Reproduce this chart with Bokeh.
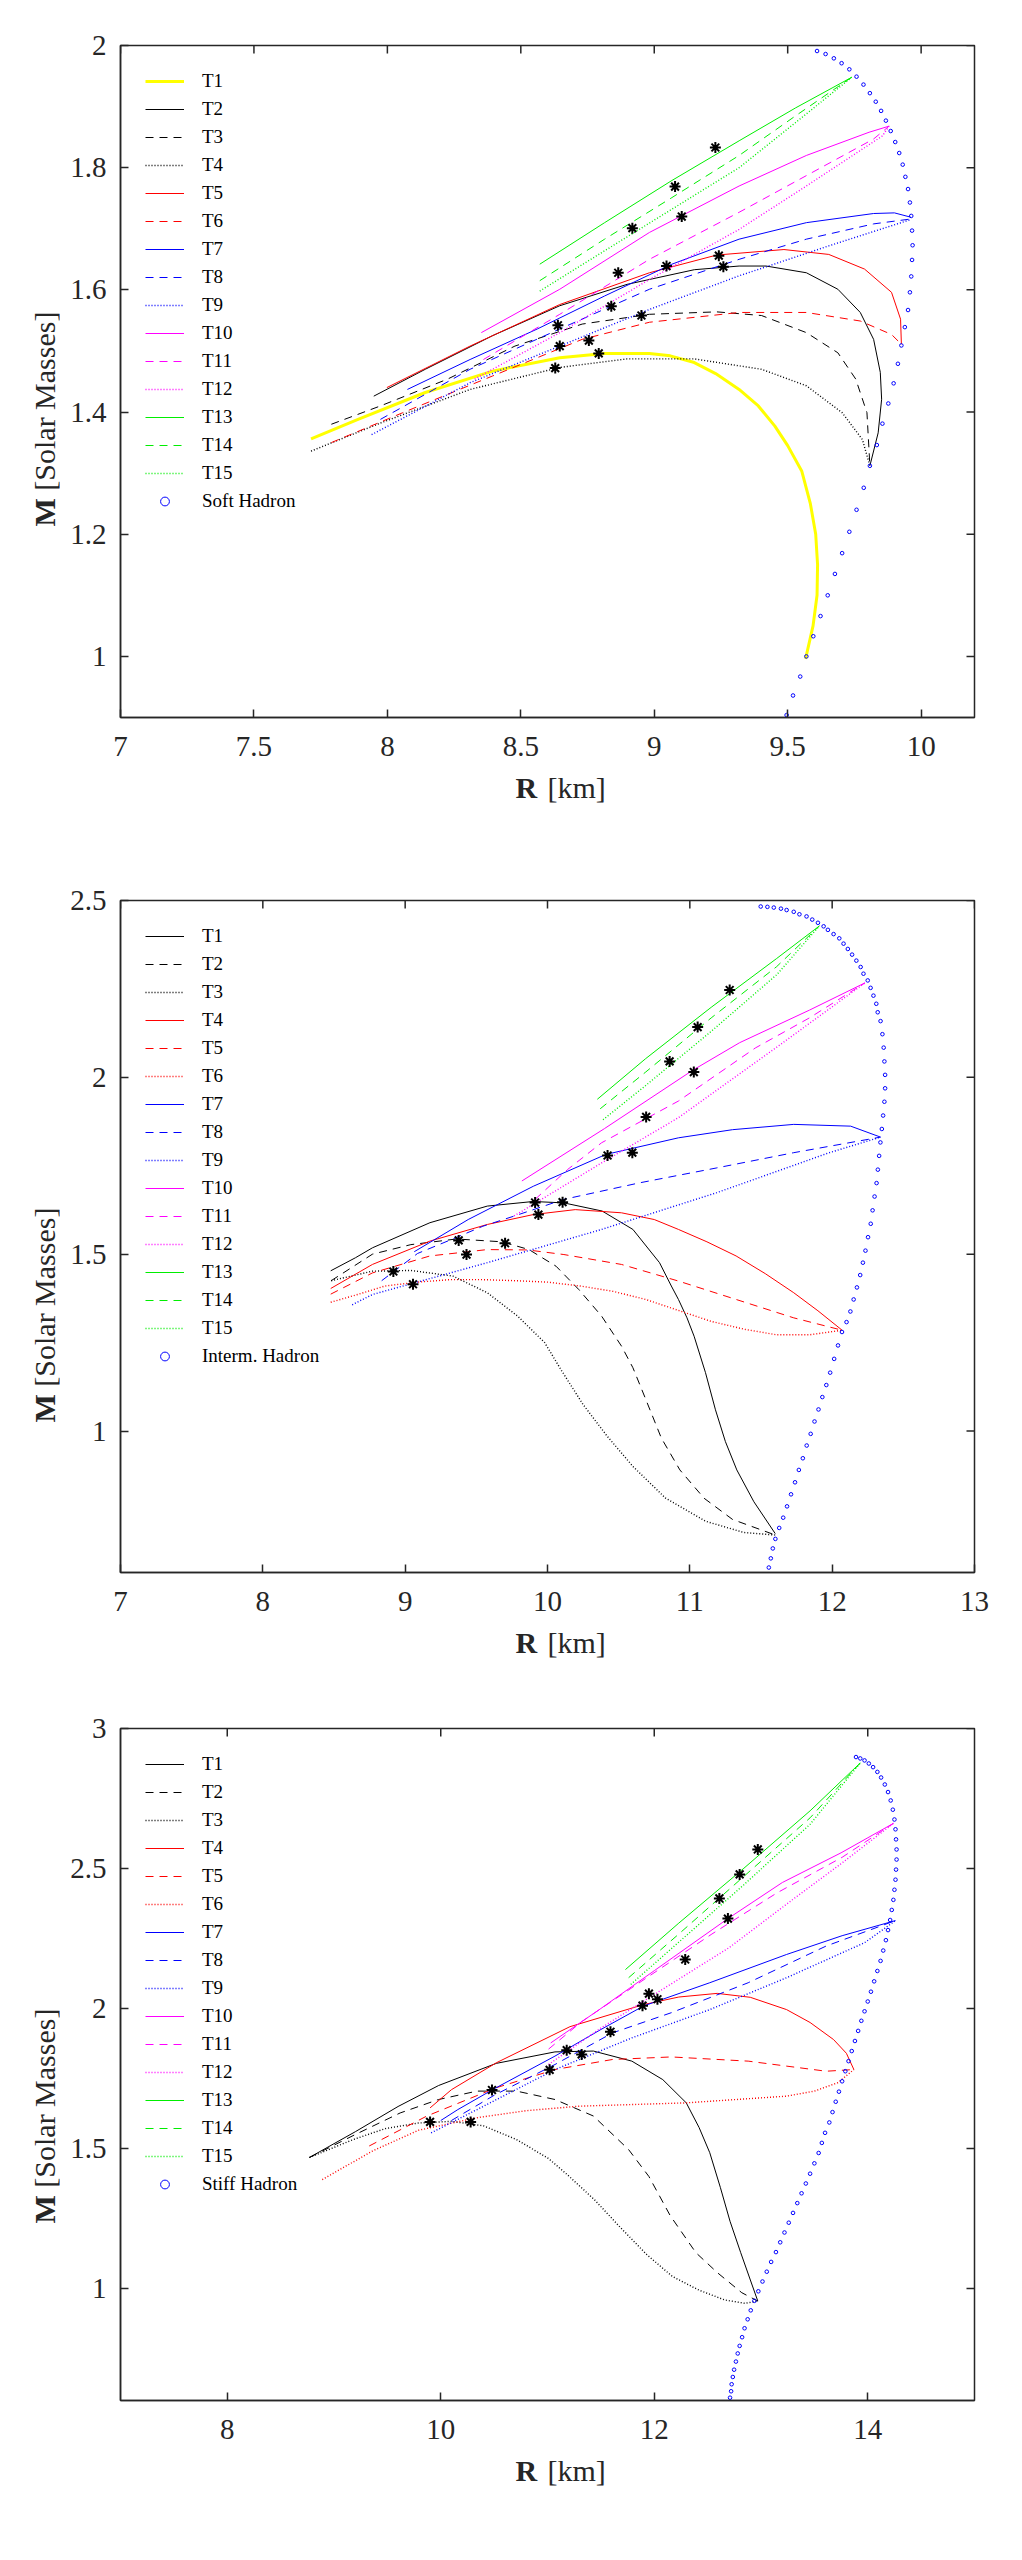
import math
from bokeh.plotting import figure
from bokeh.models import FixedTicker, Legend, LegendItem, Range1d
from bokeh.layouts import column, row
from bokeh.core.properties import value
from bokeh.embed import file_html
from bokeh.resources import INLINE

# ------------------------------------------------------------------ data
NAMES = ["T%d" % i for i in range(1, 16)]
X_TITLE = ("R", "[km]")
Y_TITLE = ("M", "[Solar Masses]")

# ---- panel 1 : Soft Hadron
P1_XTICKS = [7, 7.5, 8, 8.5, 9, 9.5, 10]
P1_XLABELS = ["7", "7.5", "8", "8.5", "9", "9.5", "10"]
P1_YTICKS = [1, 1.2, 1.4, 1.6, 1.8, 2]
P1_YLABELS = ["1", "1.2", "1.4", "1.6", "1.8", "2"]
P1_HADRON_NAME = "Soft Hadron"

P1_T1 = [(7.714, 1.356), (7.890, 1.388), (8.142, 1.432), (8.394, 1.467), (8.646, 1.489), (8.814, 1.496),
         (8.982, 1.496), (9.06, 1.492), (9.15, 1.481), (9.23, 1.463), (9.318, 1.437), (9.39, 1.41),
         (9.452, 1.377), (9.5, 1.345), (9.553, 1.303), (9.585, 1.25), (9.605, 1.2), (9.612, 1.15),
         (9.61, 1.1), (9.595, 1.05), (9.567, 0.996)]
P1_T2 = [(7.949, 1.426), (8.142, 1.470), (8.394, 1.525), (8.646, 1.574), (8.898, 1.609), (9.15, 1.633),
         (9.318, 1.639), (9.419, 1.639), (9.57, 1.628), (9.688, 1.601), (9.772, 1.563), (9.822, 1.519),
         (9.847, 1.465), (9.852, 1.421), (9.839, 1.366), (9.808, 1.312)]
P1_T3 = [(7.79, 1.38), (7.974, 1.410), (8.226, 1.454), (8.478, 1.508), (8.73, 1.544), (8.982, 1.56),
         (9.234, 1.564), (9.402, 1.558), (9.57, 1.530), (9.688, 1.497), (9.755, 1.454), (9.797, 1.399),
         (9.808, 1.312)]
P1_T4 = [(7.714, 1.336), (7.974, 1.382), (8.31, 1.437), (8.646, 1.473), (8.898, 1.487), (9.15, 1.487),
         (9.402, 1.470), (9.57, 1.443), (9.704, 1.399), (9.78, 1.355), (9.808, 1.312)]
P1_T5 = [(7.998, 1.440), (8.31, 1.508), (8.646, 1.576), (8.982, 1.628), (9.234, 1.657), (9.486, 1.666),
         (9.654, 1.658), (9.788, 1.634), (9.889, 1.596), (9.923, 1.552), (9.926, 1.511)]
P1_T6 = [(7.79, 1.350), (8.058, 1.399), (8.394, 1.459), (8.73, 1.519), (8.982, 1.547), (9.318, 1.563),
         (9.57, 1.563), (9.772, 1.549), (9.889, 1.527), (9.926, 1.511)]
P1_T7 = [(8.075, 1.437), (8.31, 1.486), (8.562, 1.536), (8.814, 1.590), (9.066, 1.642), (9.318, 1.683),
         (9.57, 1.710), (9.822, 1.725), (9.90, 1.726), (9.961, 1.719)]
P1_T8 = [(7.974, 1.388), (8.31, 1.470), (8.646, 1.536), (8.982, 1.601), (9.318, 1.650), (9.57, 1.683),
         (9.822, 1.708), (9.961, 1.716)]
P1_T9 = [(7.941, 1.363), (8.31, 1.448), (8.646, 1.508), (8.982, 1.568), (9.318, 1.623), (9.654, 1.672),
         (9.961, 1.715)]
P1_T10 = [(8.352, 1.530), (8.646, 1.601), (8.982, 1.694), (9.318, 1.770), (9.57, 1.820), (9.805, 1.858),
          (9.88, 1.868)]
P1_T11 = [(8.36, 1.486), (8.646, 1.560), (8.982, 1.650), (9.318, 1.727), (9.57, 1.787), (9.822, 1.847),
          (9.88, 1.868)]
P1_T12 = [(8.327, 1.454), (8.646, 1.530), (8.982, 1.617), (9.318, 1.699), (9.57, 1.770), (9.855, 1.852),
          (9.88, 1.868)]
P1_T13 = [(8.571, 1.642), (8.814, 1.710), (9.066, 1.779), (9.318, 1.844), (9.53, 1.898), (9.74, 1.948)]
P1_T14 = [(8.571, 1.615), (8.814, 1.683), (9.066, 1.751), (9.318, 1.820), (9.53, 1.885), (9.74, 1.948)]
P1_T15 = [(8.571, 1.598), (8.814, 1.664), (9.066, 1.732), (9.318, 1.800), (9.53, 1.874), (9.74, 1.948)]
P1_HADRON = [(9.496, 0.904), (9.52, 0.936), (9.547, 0.967), (9.57, 1.0), (9.596, 1.033), (9.623, 1.066),
             (9.65, 1.10), (9.677, 1.135), (9.704, 1.169), (9.731, 1.204), (9.758, 1.24), (9.785, 1.276),
             (9.808, 1.312), (9.834, 1.346), (9.855, 1.381), (9.877, 1.414), (9.897, 1.447), (9.913, 1.479),
             (9.926, 1.509), (9.939, 1.539), (9.951, 1.567), (9.958, 1.596), (9.963, 1.622), (9.966, 1.649),
             (9.968, 1.673), (9.966, 1.697), (9.963, 1.721), (9.958, 1.743), (9.951, 1.765), (9.941, 1.785),
             (9.931, 1.805), (9.918, 1.824), (9.903, 1.842), (9.886, 1.86), (9.868, 1.877), (9.850, 1.893),
             (9.830, 1.908), (9.808, 1.922), (9.784, 1.936), (9.758, 1.949), (9.731, 1.961), (9.702, 1.971),
             (9.673, 1.979), (9.642, 1.986), (9.61, 1.991)]
P1_STARS = [(9.229, 1.833), (9.078, 1.769), (9.103, 1.720), (8.918, 1.701), (8.865, 1.628), (9.046, 1.639),
            (9.242, 1.656), (9.259, 1.638), (8.839, 1.573), (8.952, 1.558), (8.639, 1.542), (8.646, 1.508),
            (8.755, 1.517), (8.792, 1.496), (8.629, 1.472)]

# ---- panel 2 : Interm. Hadron
P2_XTICKS = [7, 8, 9, 10, 11, 12, 13]
P2_XLABELS = ["7", "8", "9", "10", "11", "12", "13"]
P2_YTICKS = [1, 1.5, 2, 2.5]
P2_YLABELS = ["1", "1.5", "2", "2.5"]
P2_HADRON_NAME = "Interm. Hadron"

P2_T1 = [(8.477, 1.453), (8.651, 1.49), (8.77, 1.518), (9.174, 1.589), (9.577, 1.636), (9.90, 1.649),
         (10.115, 1.645), (10.384, 1.622), (10.60, 1.570), (10.787, 1.476), (10.87, 1.41), (10.92, 1.372),
         (10.98, 1.32), (11.03, 1.268), (11.11, 1.165), (11.18, 1.06), (11.25, 0.97), (11.33, 0.89),
         (11.45, 0.80), (11.6, 0.71)]
P2_T2 = [(8.48, 1.425), (8.77, 1.50), (9.04, 1.527), (9.36, 1.543), (9.68, 1.535), (9.87, 1.513),
         (10.06, 1.466), (10.22, 1.40), (10.38, 1.325), (10.52, 1.24), (10.60, 1.179), (10.69, 1.09),
         (10.80, 0.98), (10.93, 0.89), (11.1, 0.81), (11.3, 0.75), (11.6, 0.706)]
P2_T3 = [(8.48, 1.425), (8.77, 1.452), (9.04, 1.454), (9.336, 1.438), (9.577, 1.391), (9.79, 1.325),
         (9.98, 1.25), (10.10, 1.17), (10.25, 1.075), (10.42, 0.985), (10.6, 0.9), (10.83, 0.81),
         (11.11, 0.745), (11.38, 0.713), (11.6, 0.706)]
P2_T4 = [(8.477, 1.403), (8.77, 1.471), (9.174, 1.537), (9.577, 1.584), (9.90, 1.612), (10.195, 1.626),
         (10.52, 1.617), (10.75, 1.598), (10.92, 1.570), (11.12, 1.535), (11.325, 1.495), (11.53, 1.445),
         (11.73, 1.391), (11.9, 1.34), (12.07, 1.285)]
P2_T5 = [(8.477, 1.387), (8.77, 1.447), (9.174, 1.495), (9.577, 1.513), (9.86, 1.512), (10.115, 1.499),
         (10.52, 1.471), (10.92, 1.424), (11.325, 1.372), (11.73, 1.32), (12.07, 1.285)]
P2_T6 = [(8.477, 1.364), (8.674, 1.387), (8.858, 1.41), (9.087, 1.421), (9.316, 1.428), (9.546, 1.428),
         (9.775, 1.425), (10.0, 1.421), (10.23, 1.41), (10.46, 1.395), (10.69, 1.372), (10.92, 1.341),
         (11.15, 1.31), (11.38, 1.288), (11.61, 1.272), (11.84, 1.272), (12.07, 1.285)]
P2_T7 = [(9.064, 1.507), (9.443, 1.598), (9.90, 1.692), (10.41, 1.782), (10.92, 1.829), (11.3, 1.852),
         (11.73, 1.867), (12.13, 1.862), (12.34, 1.831)]
P2_T8 = [(8.835, 1.425), (9.087, 1.502), (9.316, 1.54), (9.546, 1.579), (9.775, 1.609), (10.115, 1.655),
         (10.65, 1.702), (11.19, 1.744), (11.73, 1.787), (12.34, 1.831)]
P2_T9 = [(8.628, 1.357), (8.77, 1.386), (9.577, 1.476), (10.38, 1.57), (11.19, 1.674), (11.98, 1.787),
         (12.34, 1.831)]
P2_T10 = [(9.82, 1.707), (10.4, 1.855), (11.02, 2.02), (11.35, 2.098), (11.84, 2.19), (12.23, 2.267)]
P2_T11 = [(9.913, 1.655), (10.14, 1.739), (10.38, 1.815), (10.92, 1.933), (11.46, 2.083), (11.84, 2.168),
          (12.23, 2.267)]
P2_T12 = [(9.765, 1.608), (10.38, 1.758), (10.92, 1.886), (11.62, 2.088), (12.23, 2.267)]
P2_T13 = [(10.35, 1.938), (10.69, 2.053), (11.15, 2.198), (11.61, 2.336), (11.91, 2.428)]
P2_T14 = [(10.37, 1.911), (10.69, 2.015), (11.15, 2.168), (11.61, 2.313), (11.91, 2.428)]
P2_T15 = [(10.39, 1.88), (10.69, 1.977), (11.15, 2.13), (11.61, 2.29), (11.91, 2.428)]
P2_HADRON = [(11.498, 2.483), (11.545, 2.482), (11.59, 2.48), (11.64, 2.477), (11.68, 2.473), (11.73, 2.468),
             (11.77, 2.461), (11.82, 2.455), (11.86, 2.446), (11.90, 2.437), (11.94, 2.427), (11.97, 2.417),
             (12.01, 2.405), (12.05, 2.393), (12.08, 2.378), (12.11, 2.363), (12.14, 2.347), (12.17, 2.33),
             (12.20, 2.312), (12.22, 2.293), (12.25, 2.274), (12.27, 2.253), (12.29, 2.231), (12.31, 2.208),
             (12.32, 2.184), (12.34, 2.159), (12.353, 2.122), (12.362, 2.084), (12.367, 2.045), (12.372, 2.007),
             (12.372, 1.969), (12.367, 1.931), (12.358, 1.892), (12.349, 1.854), (12.339, 1.816), (12.33, 1.778),
             (12.321, 1.739), (12.312, 1.701), (12.298, 1.663), (12.284, 1.624), (12.271, 1.586), (12.252, 1.548),
             (12.234, 1.51), (12.216, 1.476), (12.197, 1.441), (12.174, 1.406), (12.151, 1.372), (12.128, 1.338),
             (12.101, 1.308), (12.069, 1.28), (12.041, 1.242), (12.014, 1.204), (11.986, 1.165), (11.959, 1.13),
             (11.931, 1.096), (11.904, 1.061), (11.876, 1.027), (11.849, 0.992), (11.821, 0.959), (11.794, 0.923),
             (11.766, 0.89), (11.739, 0.855), (11.711, 0.821), (11.683, 0.787), (11.656, 0.755), (11.628, 0.726),
             (11.601, 0.695), (11.583, 0.668), (11.569, 0.64), (11.555, 0.614)]
P2_STARS = [(11.28, 2.247), (11.055, 2.142), (10.858, 2.045), (11.028, 2.015), (10.693, 1.888), (10.422, 1.779),
            (10.596, 1.787), (9.913, 1.646), (10.106, 1.647), (9.936, 1.612), (9.376, 1.539), (9.702, 1.531),
            (9.431, 1.499), (8.917, 1.451), (9.055, 1.415)]

# ---- panel 3 : Stiff Hadron
P3_XTICKS = [8, 10, 12, 14]
P3_XLABELS = ["8", "10", "12", "14"]
P3_YTICKS = [1, 1.5, 2, 2.5, 3]
P3_YLABELS = ["1", "1.5", "2", "2.5", "3"]
P3_HADRON_NAME = "Stiff Hadron"

P3_T1 = [(8.77, 1.468), (9.2, 1.56), (9.6, 1.65), (9.98, 1.725), (10.52, 1.804), (11.07, 1.845),
         (11.43, 1.848), (11.79, 1.812), (12.08, 1.746), (12.30, 1.663), (12.42, 1.575), (12.52, 1.485),
         (12.62, 1.36), (12.71, 1.24), (12.81, 1.128), (12.97, 0.955)]
P3_T2 = [(8.77, 1.468), (9.2, 1.55), (9.62, 1.627), (9.98, 1.675), (10.34, 1.705), (10.71, 1.705),
         (11.07, 1.675), (11.43, 1.616), (11.76, 1.496), (11.95, 1.40), (12.15, 1.26), (12.39, 1.128),
         (12.59, 1.057), (12.82, 0.985), (12.97, 0.955)]
P3_T3 = [(8.77, 1.468), (9.18, 1.532), (9.48, 1.571), (9.79, 1.591), (10.1, 1.597), (10.4, 1.581),
         (10.71, 1.532), (11.01, 1.464), (11.19, 1.405), (11.44, 1.317), (11.68, 1.219), (11.93, 1.121),
         (12.17, 1.043), (12.42, 0.994), (12.66, 0.959), (12.85, 0.947), (12.97, 0.955)]
P3_T4 = [(9.9, 1.645), (10.1, 1.71), (10.52, 1.806), (11.21, 1.935), (11.90, 2.014), (12.23, 2.041),
         (12.59, 2.054), (12.9, 2.04), (13.24, 1.996), (13.46, 1.95), (13.68, 1.889), (13.80, 1.84),
         (13.87, 1.782)]
P3_T5 = [(9.33, 1.509), (9.87, 1.616), (10.52, 1.717), (11.07, 1.782), (11.61, 1.818), (12.16, 1.827),
         (12.88, 1.812), (13.61, 1.776), (13.87, 1.782)]
P3_T6 = [(8.89, 1.389), (9.36, 1.491), (9.79, 1.565), (10.34, 1.610), (10.8, 1.635), (11.29, 1.651),
         (12.30, 1.663), (13.24, 1.687), (13.50, 1.705), (13.72, 1.735), (13.87, 1.782)]
P3_T7 = [(10.0, 1.60), (10.16, 1.639), (10.49, 1.711), (11.07, 1.83), (11.5, 1.925), (11.90, 2.009),
         (12.52, 2.092), (13.24, 2.193), (13.76, 2.26), (14.26, 2.314)]
P3_T8 = [(10.1, 1.60), (10.5, 1.69), (11.07, 1.80), (11.61, 1.913), (12.16, 1.985), (12.88, 2.092),
         (13.61, 2.223), (14.26, 2.314)]
P3_T9 = [(9.91, 1.556), (10.34, 1.639), (11.07, 1.782), (11.79, 1.895), (12.52, 1.996), (13.24, 2.11),
         (13.97, 2.235), (14.26, 2.314)]
P3_T10 = [(11.03, 1.877), (11.5, 2.0), (12.0, 2.135), (12.69, 2.321), (13.2, 2.45), (13.75, 2.556),
          (14.24, 2.661)]
P3_T11 = [(11.01, 1.855), (11.32, 1.953), (11.93, 2.11), (12.54, 2.266), (13.15, 2.413), (13.76, 2.54),
          (14.24, 2.661)]
P3_T12 = [(11.01, 1.80), (11.5, 1.93), (12.0, 2.05), (12.70, 2.217), (13.3, 2.39), (13.76, 2.52),
          (14.24, 2.661)]
P3_T13 = [(11.73, 2.139), (12.23, 2.305), (12.84, 2.501), (13.46, 2.706), (13.93, 2.877)]
P3_T14 = [(11.76, 2.11), (12.23, 2.266), (12.84, 2.472), (13.46, 2.681), (13.93, 2.877)]
P3_T15 = [(11.78, 2.086), (12.23, 2.237), (12.84, 2.442), (13.46, 2.658), (13.93, 2.877)]
P3_HADRON = [(12.71, 0.61), (12.72, 0.633), (12.725, 0.658), (12.736, 0.684), (12.748, 0.71), (12.765, 0.739),
             (12.782, 0.768), (12.80, 0.795), (12.823, 0.826), (12.846, 0.858), (12.875, 0.89), (12.904, 0.922),
             (12.938, 0.956), (12.975, 0.99), (13.014, 1.025), (13.054, 1.06), (13.095, 1.095), (13.14, 1.13),
             (13.18, 1.165), (13.22, 1.20), (13.26, 1.235), (13.30, 1.27), (13.34, 1.305), (13.38, 1.34),
             (13.42, 1.375), (13.46, 1.41), (13.50, 1.447), (13.54, 1.484), (13.57, 1.52), (13.60, 1.556),
             (13.64, 1.593), (13.67, 1.63), (13.70, 1.667), (13.73, 1.703), (13.76, 1.74), (13.79, 1.776),
             (13.82, 1.812), (13.85, 1.848), (13.88, 1.884), (13.91, 1.92), (13.94, 1.956), (13.97, 1.99),
             (14.0, 2.025), (14.03, 2.06), (14.06, 2.097), (14.09, 2.134), (14.12, 2.17), (14.145, 2.207),
             (14.17, 2.244), (14.19, 2.28), (14.21, 2.316), (14.225, 2.352), (14.24, 2.388), (14.25, 2.424),
             (14.26, 2.46), (14.265, 2.496), (14.27, 2.532), (14.27, 2.568), (14.265, 2.604), (14.26, 2.64),
             (14.25, 2.675), (14.235, 2.71), (14.215, 2.743), (14.19, 2.773), (14.16, 2.80), (14.125, 2.825),
             (14.09, 2.845), (14.05, 2.862), (14.01, 2.875), (13.97, 2.886), (13.93, 2.893), (13.89, 2.898)]
P3_STARS = [(12.97, 2.568), (12.80, 2.479), (12.61, 2.393), (12.69, 2.321), (12.29, 2.175), (11.95, 2.053),
            (12.03, 2.033), (11.89, 2.01), (11.59, 1.917), (11.18, 1.851), (11.32, 1.836), (11.02, 1.781),
            (10.48, 1.709), (9.9, 1.595), (10.28, 1.595)]

# ------------------------------------------------------------------ styles
BLK, RED, BLU, MAG, GRN, YEL = "#000000", "#ff0000", "#0000ff", "#ff00ff", "#00ee00", "#ffff00"
SOL, DSH, DOT = "solid", "8 6", "1 2"
DW = 1.4
STY1 = [(YEL, 3, SOL), (BLK, 1, SOL), (BLK, 1, DSH), (BLK, DW, DOT), (RED, 1, SOL), (RED, 1, DSH),
        (BLU, 1, SOL), (BLU, 1, DSH), (BLU, DW, DOT), (MAG, 1, SOL), (MAG, 1, DSH), (MAG, DW, DOT),
        (GRN, 1, SOL), (GRN, 1, DSH), (GRN, DW, DOT)]
STY2 = [(BLK, 1, SOL), (BLK, 1, DSH), (BLK, DW, DOT), (RED, 1, SOL), (RED, 1, DSH), (RED, DW, DOT),
        (BLU, 1, SOL), (BLU, 1, DSH), (BLU, DW, DOT), (MAG, 1, SOL), (MAG, 1, DSH), (MAG, DW, DOT),
        (GRN, 1, SOL), (GRN, 1, DSH), (GRN, DW, DOT)]

FONT = "Liberation Serif"
AXC = "#262626"
FW, FH = 854, 672          # plot frame size
YT_W = 60                  # width of the y-title strip
BL, BR, BB = 60, 20, 52    # borders of the main figure
XT_H = 45                  # height of the x-title strip
TICK = 8


def style_axis(ax, ticks, labels, standoff):
    ax.ticker = FixedTicker(ticks=ticks)
    ax.major_label_overrides = {t: l for t, l in zip(ticks, labels)}
    ax.major_tick_in = TICK
    ax.major_tick_out = 0
    ax.minor_tick_in = 0
    ax.minor_tick_out = 0
    ax.axis_line_color = AXC
    ax.axis_line_width = 1.5
    ax.major_tick_line_color = AXC
    ax.major_tick_line_width = 1.5
    ax.major_label_text_font = FONT
    ax.major_label_text_font_size = "29px"
    ax.major_label_text_color = AXC
    ax.major_label_standoff = standoff


def strip(w, h):
    f = figure(output_backend="svg", toolbar_location=None, tools="", frame_width=w, frame_height=h,
               x_range=Range1d(0, w), y_range=Range1d(0, h), x_axis_type=None, y_axis_type=None,
               min_border=0, min_border_left=0, min_border_right=0, min_border_top=0, min_border_bottom=0)
    f.outline_line_color = None
    f.background_fill_color = "white"
    f.border_fill_color = "white"
    return f


def build(xr, yr, xt, xl, yt, yl, curves, sty, hadron, hname, stars, btop):
    p = figure(output_backend="svg", toolbar_location=None, tools="",
               frame_width=FW, frame_height=FH,
               x_range=Range1d(*xr), y_range=Range1d(*yr),
               min_border_left=BL, min_border_right=BR,
               min_border_top=btop, min_border_bottom=BB)
    p.grid.visible = False
    p.outline_line_color = AXC
    p.outline_line_width = 1.5
    p.background_fill_color = "white"
    p.border_fill_color = "white"

    style_axis(p.xaxis[0], xt, xl, 19)
    style_axis(p.yaxis[0], yt, yl, 14)

    # inward ticks on the top and right edges (box style)
    ypx = (yr[1] - yr[0]) / FH
    xpx = (xr[1] - xr[0]) / FW
    p.segment(x0=xt, y0=[yr[1]] * len(xt), x1=xt, y1=[yr[1] - TICK * ypx] * len(xt),
              line_color=AXC, line_width=1.5)
    p.segment(x0=[xr[1]] * len(yt), y0=yt, x1=[xr[1] - TICK * xpx] * len(yt), y1=yt,
              line_color=AXC, line_width=1.5)

    items = []
    for name, pts, (c, w, d) in zip(NAMES, curves, sty):
        r = p.line([a for a, b in pts], [b for a, b in pts], line_color=c, line_width=w, line_dash=d)
        items.append(LegendItem(label=name, renderers=[r]))
    hr = p.scatter([a for a, b in hadron], [b for a, b in hadron], marker="circle", size=3.6,
                   fill_color=None, line_color=BLU, line_width=1)
    items.append(LegendItem(label=hname, renderers=[hr]))
    p.scatter([a for a, b in stars], [b for a, b in stars], marker="asterisk", size=11,
              line_color="black", line_width=2)

    leg = Legend(items=items, location="top_left", margin=20, padding=5, spacing=6,
                 label_height=22, glyph_height=22, glyph_width=39, label_standoff=18,
                 label_text_font=FONT, label_text_font_size="19px", label_text_color="black",
                 border_line_alpha=0, background_fill_alpha=0)
    p.add_layout(leg)

    # y-title strip (left of the plot)
    H = btop + FH + BB
    ys = strip(YT_W, H)
    y0 = BB + FH / 2 - 100
    tcommon = dict(text_font=value(FONT), text_font_size=value("30px"), text_color=AXC,
                   text_align="left", text_baseline="middle")
    ys.text(x=[44], y=[y0], text=[Y_TITLE[0]], angle=math.pi / 2,
            text_font_style=value("bold"), **tcommon)
    ys.text(x=[44], y=[y0 + 35.8], text=[Y_TITLE[1]], angle=math.pi / 2,
            text_font_style=value("normal"), **tcommon)

    # x-title strip (below the plot)
    xs = strip(YT_W + BL + FW + BR, XT_H)
    xs.text(x=[515], y=[XT_H - 18], text=[X_TITLE[0]], text_font_style=value("bold"), **tcommon)
    xs.text(x=[547], y=[XT_H - 18], text=[X_TITLE[1]], text_font_style=value("normal"), **tcommon)
    return column(row(ys, p), xs)


C1 = [P1_T1, P1_T2, P1_T3, P1_T4, P1_T5, P1_T6, P1_T7, P1_T8, P1_T9, P1_T10, P1_T11, P1_T12, P1_T13, P1_T14, P1_T15]
C2 = [P2_T1, P2_T2, P2_T3, P2_T4, P2_T5, P2_T6, P2_T7, P2_T8, P2_T9, P2_T10, P2_T11, P2_T12, P2_T13, P2_T14, P2_T15]
C3 = [P3_T1, P3_T2, P3_T3, P3_T4, P3_T5, P3_T6, P3_T7, P3_T8, P3_T9, P3_T10, P3_T11, P3_T12, P3_T13, P3_T14, P3_T15]

b1 = build((7, 10.2), (0.9, 2.0), P1_XTICKS, P1_XLABELS, P1_YTICKS, P1_YLABELS, C1, STY1,
           P1_HADRON, P1_HADRON_NAME, P1_STARS, 45)
b2 = build((7, 13), (0.6, 2.5), P2_XTICKS, P2_XLABELS, P2_YTICKS, P2_YLABELS, C2, STY2,
           P2_HADRON, P2_HADRON_NAME, P2_STARS, 86)
b3 = build((7, 15), (0.6, 3.0), P3_XTICKS, P3_XLABELS, P3_YTICKS, P3_YLABELS, C3, STY2,
           P3_HADRON, P3_HADRON_NAME, P3_STARS, 59)

layout = column(b1, b2, b3)
open("out.html", "w").write(file_html(layout, INLINE))
